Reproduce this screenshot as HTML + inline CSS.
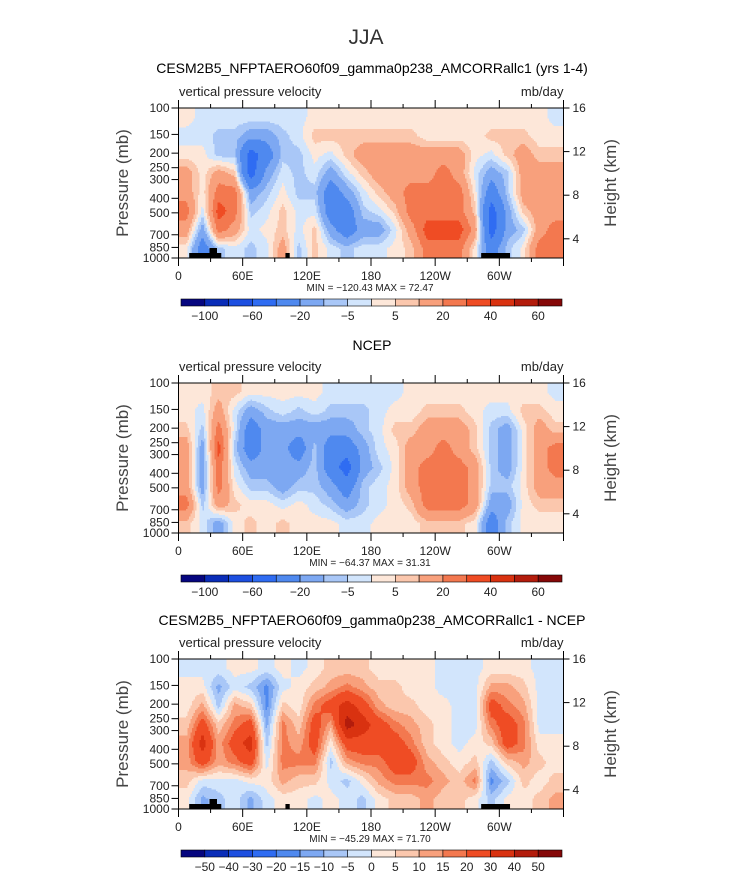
<!DOCTYPE html>
<html><head><meta charset="utf-8"><style>
body{margin:0;background:#fff;}
svg text{font-family:"Liberation Sans",sans-serif;}
</style></head><body>
<svg id="fig" width="733" height="873" viewBox="0 0 733 873" xmlns="http://www.w3.org/2000/svg">
<text x="366" y="44" font-size="21" fill="#333" text-anchor="middle">JJA</text>
</svg>
<script>
// ---- data ----
const lonCenters=[7.5,22.5,37.5,52.5,67.5,82.5,97.5,112.5,127.5,142.5,157.5,172.5,187.5,202.5,217.5,232.5,247.5,262.5,277.5,292.5,307.5,322.5,337.5,352.5];
const xTickLons=[0,60,120,180,240,300];
const xTickLabels=["0","60E","120E","180","120W","60W"];
const pTicks=[100,150,200,250,300,400,500,700,850,1000];
const zTicks=[4,8,12,16];
const levelsMain=[-100,-80,-60,-40,-20,-10,-5,0,5,10,20,30,40,50,60];
const levelsMainLabels=["-100","","-60","","-20","","-5","","5","","20","","40","","60"];
const levelsDiff=[-50,-40,-30,-20,-15,-10,-5,0,5,10,15,20,30,40,50];
const levelsDiffLabels=["-50","-40","-30","-20","-15","-10","-5","0","5","10","15","20","30","40","50"];
// omega (mb/day), one array per longitude column, rows top(100mb)->bottom(1000mb)
const omegaModel=[
[2,-2,2,15,15,25,15,2],[-2,-2,2,2,2,-2,-15,-30],[-2,-7,-7,15,25,35,25,-7],[-2,-7,-7,7,25,25,15,-2],
[-2,-15,-50,-50,-15,-7,-2,-7],[-2,-15,-30,-15,-7,-2,2,-2],[-2,-7,-7,-2,2,7,7,15],[-2,-2,-7,-7,-7,-2,-2,-7],
[2,7,2,-2,-7,-2,7,7],[2,7,-2,-15,-30,-30,-15,-2],[2,7,7,-2,-15,-30,-30,-7],[2,7,15,7,-2,-7,-15,-2],
[2,7,15,15,7,-2,-15,-2],[2,7,15,15,15,7,-2,2],[2,7,15,15,25,25,15,7],[2,2,15,15,25,25,35,25],
[2,2,15,25,25,25,35,25],[2,2,15,15,25,25,35,25],[2,2,2,-2,2,7,15,2],[2,7,-2,-15,-30,-50,-50,-30],
[2,7,7,-7,-7,-15,-15,-7],[2,7,15,15,15,7,-7,2],[2,2,7,15,15,15,15,25],[-2,2,7,15,15,15,25,25]];
const omegaNCEP=[
[2,2,7,15,15,15,25,7],[2,-2,-7,-15,-15,-15,-7,-2],[7,15,25,35,25,25,15,-15],[7,-2,-2,-7,-2,2,7,2],
[2,-15,-30,-30,-15,-7,2,7],[2,-7,-15,-15,-15,-7,2,2],[2,-2,-15,-15,-15,-15,-2,7],[2,-7,-15,-30,-15,-7,2,2],
[2,-2,-15,-7,-7,-7,-2,2],[-2,-7,-15,-30,-30,-15,-7,2],[-2,-7,-15,-30,-50,-30,-15,-2],[-2,-7,-7,-15,-15,-7,-7,-2],
[-2,-2,-2,-2,-7,-2,-2,2],[-2,2,7,2,2,2,2,2],[2,2,7,15,15,15,7,2],[2,7,15,15,25,25,25,7],
[2,7,15,25,25,25,25,7],[2,7,15,15,25,25,25,7],[2,2,7,7,15,15,15,2],[2,-2,-7,-7,-7,-7,-15,-30],
[2,-2,-15,-15,-15,-7,-15,-7],[2,7,2,2,2,2,2,2],[2,7,15,15,15,15,7,2],[-2,2,7,25,25,15,7,2]];
const omegaDiff=[
[-2,2,2,7,12,12,7,2],[-2,2,12,25,35,25,-2,-12],[-2,-12,-7,7,12,12,-2,-7],[2,-2,12,17,25,17,-2,-2],
[2,-7,7,25,35,25,2,-12],[-2,-17,-17,-12,-7,-2,2,-2],[2,-2,7,17,17,17,12,2],[-2,2,2,7,12,17,7,2],
[2,7,17,25,25,17,7,-2],[7,12,25,12,2,-7,-2,2],[7,17,35,45,25,12,-7,-2],[7,12,25,35,25,17,2,-7],
[2,7,12,25,25,17,12,2],[2,7,7,17,25,25,17,7],[2,2,7,12,17,25,17,7],[2,2,2,7,7,12,17,12],
[-2,-2,2,2,2,7,12,7],[-2,-2,-2,-2,-2,2,7,7],[-2,-2,-2,-2,2,7,17,2],[2,12,25,17,7,-7,-17,-7],
[2,12,17,25,25,7,-7,2],[2,7,12,17,17,12,7,2],[-2,-2,-2,-2,2,7,2,7],[-2,-2,-2,-2,2,2,7,12]];
// topography blocks: [lonStart, lonEnd, heightPx]
const topo=[[10,40,5],[29,36,10],[100,104,5],[283,310,5]];

const colors=["#06067f","#0a2db8","#1d4fe0","#2f6cf2","#4f89ef","#7da8f2","#a9c7f7","#d2e5fc","#fde7d9","#fbc7ad","#f8a07c","#f3784f","#ef4c24","#d93210","#b31c0c","#850808"];

const svg=document.getElementById('fig');
const NS="http://www.w3.org/2000/svg";
function mk(tag,attrs,parent){const e=document.createElementNS(NS,tag);for(const k in attrs)e.setAttribute(k,attrs[k]);(parent||svg).appendChild(e);return e;}
function txt(s,attrs,parent){const e=mk('text',attrs,parent);e.textContent=s;return e;}

const X0=178.5,X1=563.5;
function xScale(lon){return X0+(lon/360)*(X1-X0);}
function binIndex(v,levels){let i=0;while(i<levels.length&&v>=levels[i])i++;return i;}

function panel(name,title,titleY,top,field,levels,levLabels,cbY,minmax,showTopo){
  const H=150,bot=top+H;
  const g=mk('g',{},svg);
  
  
  const t=txt(title,{x:372,y:titleY,'font-size':14,'text-anchor':'middle',fill:'#000'},g);
  
  
  const l=txt('vertical pressure velocity',{x:179,y:top-12,'font-size':13,fill:'#222'},g);
  
  
  const u=txt('mb/day',{x:X1,y:top-12,'font-size':13,fill:'#222','text-anchor':'end'},g);
  
  
  const fg=mk('g',{},g);
  
  
  const nc=lonCenters.length,nr=field[0].length;
  const dx=1.5,dy=1.5;
  function sample(lon,fr){
    let ci=(lon-lonCenters[0])/(lonCenters[1]-lonCenters[0]);
    let ri=fr*nr-0.5;
    ci=Math.max(0,Math.min(nc-1,ci));ri=Math.max(0,Math.min(nr-1,ri));
    const c0=Math.floor(ci),c1=Math.min(nc-1,c0+1),r0=Math.floor(ri),r1=Math.min(nr-1,r0+1);
    const a=ci-c0,b=ri-r0;
    return (field[c0][r0]*(1-a)+field[c1][r0]*a)*(1-b)+(field[c0][r1]*(1-a)+field[c1][r1]*a)*b;
  }
  function addRun(x0,x1,y,idx){
    const r=mk('rect',{x:x0,y:y,width:x1-x0+0.3,height:Math.min(dy+0.3,bot-y),fill:colors[idx]},fg);
    
    
  }
  for(let y=top;y<bot;y+=dy){
    const fr=(y+dy/2-top)/H;
    let runStart=X0,runIdx=-1;
    for(let x=X0;x<X1;x+=dx){
      const xc=Math.min(x+dx/2,X1);
      const idx=binIndex(sample((xc-X0)/(X1-X0)*360,fr),levels);
      if(idx!==runIdx){
        if(runIdx>=0)addRun(runStart,x,y,runIdx);
        runStart=x;runIdx=idx;
      }
    }
    if(runIdx>=0)addRun(runStart,X1,y,runIdx);
  }
  if(showTopo){
    topo.forEach(tb=>{
      const r=mk('rect',{x:xScale(tb[0]),y:bot-tb[2],width:xScale(tb[1])-xScale(tb[0]),height:tb[2],fill:'#000'},g);
      
      
    });
  }
  const fr=mk('rect',{x:X0,y:top,width:X1-X0,height:H,fill:'none',stroke:'#000','stroke-width':1},g);
  
  
  for(let lon=0;lon<=360;lon+=30){
    const x=xScale(lon),maj=lon%60===0;
    mk('line',{x1:x,x2:x,y1:bot,y2:bot+(maj?8:4),stroke:'#000'},g);
    mk('line',{x1:x,x2:x,y1:top,y2:top-(maj?8:4),stroke:'#000'},g);
  }
  xTickLons.forEach((lon,i)=>{
    const e=txt(xTickLabels[i],{x:xScale(lon),y:bot+22,'font-size':12,'text-anchor':'middle',fill:'#222'},g);
    
    
  });
  pTicks.forEach(p=>{
    const y=top+Math.log10(p/100)*H;
    mk('line',{x1:X0,x2:X0-7,y1:y,y2:y,stroke:'#000'},g);
    const e=txt(String(p),{x:X0-9,y:y+4,'font-size':12,'text-anchor':'end',fill:'#222'},g);
    
    
  });
  zTicks.forEach(z=>{
    const yy=top+(16-z)*10.9;
    mk('line',{x1:X1,x2:X1+6,y1:yy,y2:yy,stroke:'#000'},g);
    const e=txt(String(z),{x:X1+9,y:yy+4,'font-size':12,fill:'#222'},g);
    
    
  });
  const py=txt('Pressure (mb)',{x:0,y:0,'font-size':17,fill:'#444','text-anchor':'middle',transform:`translate(128,${top+H/2}) rotate(-90)`},g);
  
  
  const hy=txt('Height (km)',{x:0,y:0,'font-size':17,fill:'#444','text-anchor':'middle',transform:`translate(616,${top+H/2}) rotate(-90)`},g);
  
  
  const mm=txt(minmax,{x:370,y:bot+33,'font-size':10,'text-anchor':'middle',fill:'#222'},g);
  
  
  const cb=mk('g',{},g);
  
  
  const cx0=181,cx1=562,w=(cx1-cx0)/colors.length;
  colors.forEach((c,i)=>{
    const r=mk('rect',{x:cx0+i*w,y:cbY,width:w,height:7,fill:c,stroke:'#000','stroke-width':0.6},cb);
    
    
  });
  levels.forEach((lv,i)=>{
    if(!levLabels[i])return;
    const e=txt(levLabels[i].replace('-','\u2212'),{x:cx0+(i+1)*w,y:cbY+21,'font-size':12,'text-anchor':'middle',fill:'#222'},cb);
    
    
  });
}
panel('model-panel','CESM2B5_NFPTAERO60f09_gamma0p238_AMCORRallc1 (yrs 1-4)',73,108,omegaModel,levelsMain,levelsMainLabels,299,'MIN = \u2212120.43  MAX =  72.47',true);
panel('ncep-panel','NCEP',350,383,omegaNCEP,levelsMain,levelsMainLabels,575,'MIN = \u221264.37  MAX =  31.31',false);
panel('diff-panel','CESM2B5_NFPTAERO60f09_gamma0p238_AMCORRallc1 - NCEP',625,659,omegaDiff,levelsDiff,levelsDiffLabels,850,'MIN = \u221245.29  MAX =  71.70',true);
</script>
</body></html>
